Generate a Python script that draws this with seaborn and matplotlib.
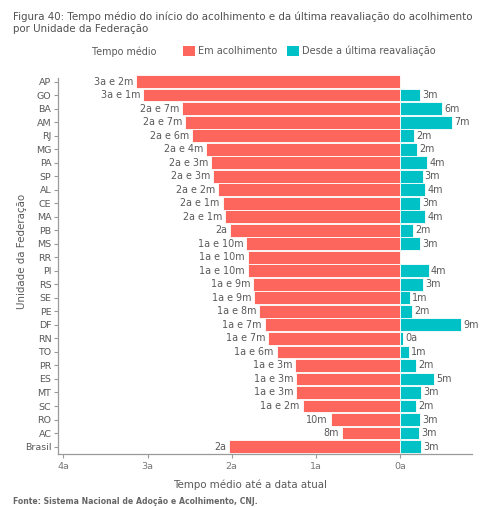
import math
import numpy as np
import pandas as pd
import matplotlib
matplotlib.use("Agg")
import matplotlib.pyplot as plt
from matplotlib.patches import Patch
import seaborn as sns

# Average time (months) per federative unit
ufs = ["AP", "GO", "BA", "AM", "RJ", "MG", "PA", "SP", "AL", "CE", "MA", "PB", "MS", "RR",
       "PI", "RS", "SE", "PE", "DF", "RN", "TO", "PR", "ES", "MT", "SC", "RO", "AC", "Brasil"]
em_acolhimento = [37.6, 36.6, 31.1, 30.7, 29.6, 27.6, 27.0, 26.6, 26.0, 25.3, 25.0, 24.3, 21.9, 21.7,
                  21.7, 20.9, 20.8, 20.1, 19.3, 18.8, 17.6, 15.0, 14.8, 14.8, 13.9, 9.9, 8.3, 24.4]
desde_reavaliacao = [np.nan, 2.85, 5.95, 7.4, 2.0, 2.4, 3.9, 3.2, 3.6, 2.85, 3.6, 1.8, 2.85, np.nan,
                     4.1, 3.3, 1.4, 1.7, 8.7, 0.4, 1.3, 2.3, 4.8, 3.0, 2.3, 2.85, 2.7, 2.95]
x_ticks_years = [4, 3, 2, 1, 0]

RED = "#FD665C"
TEAL = "#00C1C5"
TXT = "#595959"

def fmt_months(m):
    m = int(math.floor(m + 0.5))
    a, r = divmod(m, 12)
    if a and r:
        return f"{a}a e {r}m"
    if a:
        return f"{a}a"
    if r:
        return f"{r}m"
    return "0a"

df_red = pd.DataFrame({"uf": ufs, "val": [-v for v in em_acolhimento], "raw": em_acolhimento})
df_teal = pd.DataFrame({"uf": ufs, "val": desde_reavaliacao, "raw": desde_reavaliacao}).dropna()

sns.set_style("white")
plt.rcParams["font.family"] = ["DejaVu Sans"]

fig = plt.figure(figsize=(4.91, 5.07), dpi=100)
ax = fig.add_axes([0.1175, 0.1045, 0.8432, 0.7507])

sns.barplot(data=df_red, y="uf", x="val", order=ufs, color=RED, width=0.95,
            edgecolor="white", linewidth=0.6, saturation=1, ax=ax)
sns.barplot(data=df_teal, y="uf", x="val", order=ufs, color=TEAL, width=0.95,
            edgecolor="white", linewidth=0.6, saturation=1, ax=ax)

ax.bar_label(ax.containers[0], labels=[fmt_months(v) for v in df_red["raw"]],
             padding=2, fontsize=6.9, color=TXT)
ax.bar_label(ax.containers[1], labels=[fmt_months(v) for v in df_teal["raw"]],
             padding=1.5, fontsize=6.9, color=TXT)

ax.set_xlim(-48.8, 10.2)
ax.set_ylim(len(ufs) - 0.45, -0.6)
ax.set_xticks([-12 * y for y in x_ticks_years])
ax.set_xticklabels([f"{y}a" for y in x_ticks_years])

for side in ["top", "right"]:
    ax.spines[side].set_visible(False)
for side in ["left", "bottom"]:
    ax.spines[side].set_color("#9a9a9a")
    ax.spines[side].set_linewidth(0.9)
ax.spines["left"].set_bounds(len(ufs) - 0.45, -0.25)

ax.tick_params(axis="both", which="both", length=3, width=0.8, color="#9a9a9a",
               labelsize=6.8, labelcolor=TXT, pad=1.5, left=True, bottom=True)
ax.tick_params(axis="x", pad=3, labelcolor="#777777")

ax.set_xlabel("Tempo médio até a data atual", fontsize=7.4, color=TXT)
ax.xaxis.set_label_coords(0.4645, -0.066)
ax.set_ylabel("Unidade da Federação", fontsize=7.4, color=TXT)
ax.yaxis.set_label_coords(-0.074, 0.533)

fig.text(13 / 491, 1 - 11 / 507,
         "Figura 40: Tempo médio do início do acolhimento e da última reavaliação do acolhimento\npor Unidade da Federação",
         fontsize=7.4, color="#505050", va="top", ha="left", linespacing=1.25)

fig.text(92 / 491, 1 - 52 / 507, "Tempo médio", fontsize=6.9, color=TXT, va="center", ha="left")
handles = [Patch(facecolor=RED, edgecolor="none"), Patch(facecolor=TEAL, edgecolor="none")]
fig.legend(handles, ["Em acolhimento", "Desde a última reavaliação"], ncol=2, frameon=False,
           loc="center left", bbox_to_anchor=(183 / 491, 1 - 51 / 507), fontsize=7.0,
           labelcolor=TXT, handlelength=1.2, handleheight=1.2, handletextpad=0.35,
           columnspacing=1.0, borderpad=0, borderaxespad=0)

fig.text(13 / 491, 1 - 502 / 507, "Fonte: Sistema Nacional de Adoção e Acolhimento, CNJ.",
         fontsize=5.6, color="#666666", fontweight="bold", va="center", ha="left")

fig.savefig("out.png", dpi=100)
